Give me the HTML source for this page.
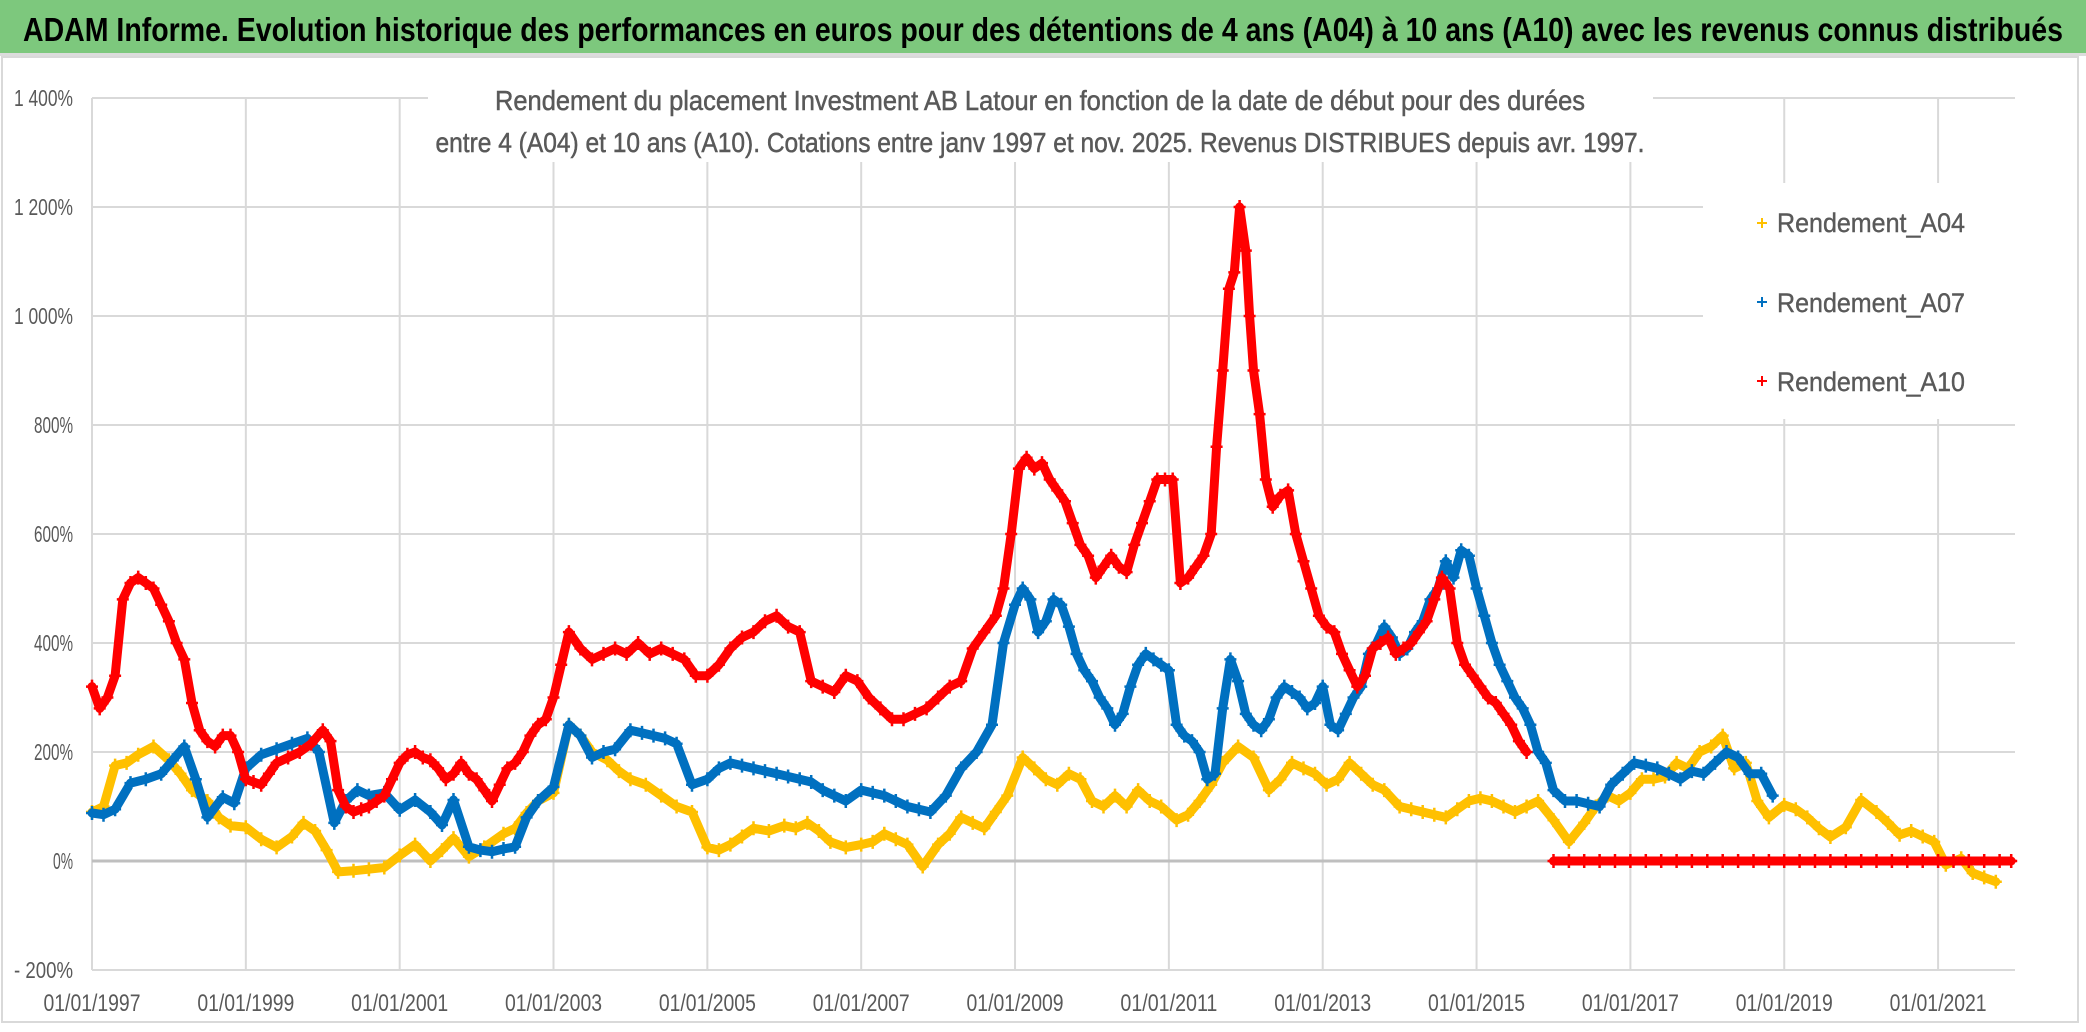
<!DOCTYPE html>
<html><head><meta charset="utf-8"><style>
html,body{margin:0;padding:0;background:#fff;}
svg{display:block;font-family:"Liberation Sans",sans-serif;}
</style></head><body>
<svg id="chart" width="2086" height="1032" viewBox="0 0 2086 1032" xmlns="http://www.w3.org/2000/svg">
<rect x="0" y="0" width="2086" height="1032" fill="#fff"/>
<rect x="0" y="0" width="2086" height="53" fill="#7dc87d"/>
<rect x="0" y="53" width="2086" height="3" fill="#dcdcdc"/>
<text x="1043" y="41" text-anchor="middle" font-size="33" font-weight="bold" fill="#000" textLength="2040" lengthAdjust="spacingAndGlyphs">ADAM Informe. Evolution historique des performances en euros pour des détentions de 4 ans (A04) à 10 ans (A10) avec les revenus connus distribués</text>
<rect x="2" y="57" width="2076" height="965" fill="none" stroke="#d9d9d9" stroke-width="2"/>
<g id="grid"></g>
<g id="axes"></g>
<g id="series"></g>
<rect x="428" y="62" width="1225" height="100" fill="#fff"/>
<text x="1040" y="110" text-anchor="middle" font-size="28" fill="#595959" stroke="#595959" stroke-width="0.5" textLength="1090" lengthAdjust="spacingAndGlyphs">Rendement du placement Investment AB Latour en fonction de la date de début pour des durées</text>
<text x="1040" y="152" text-anchor="middle" font-size="28" fill="#595959" stroke="#595959" stroke-width="0.5" textLength="1209" lengthAdjust="spacingAndGlyphs">entre 4 (A04) et 10 ans (A10). Cotations entre janv 1997 et nov. 2025. Revenus DISTRIBUES depuis avr. 1997.</text>
<g>
<rect x="1703" y="183" width="312" height="236" fill="#fff"/>
<g>
<path d="M1757 223h10M1762 218v10" stroke="#ffc000" stroke-width="2"/>
<text x="1777" y="232" font-size="27" fill="#595959" stroke="#595959" stroke-width="0.4" textLength="188" lengthAdjust="spacingAndGlyphs">Rendement_A04</text></g>
<g>
<path d="M1757 302h10M1762 297v10" stroke="#0070c0" stroke-width="2"/>
<text x="1777" y="312" font-size="27" fill="#595959" stroke="#595959" stroke-width="0.4" textLength="188" lengthAdjust="spacingAndGlyphs">Rendement_A07</text></g>
<g>
<path d="M1757 381h10M1762 376v10" stroke="#ff0000" stroke-width="2"/>
<text x="1777" y="391" font-size="27" fill="#595959" stroke="#595959" stroke-width="0.4" textLength="188" lengthAdjust="spacingAndGlyphs">Rendement_A10</text></g>
</g>
</svg>
<script>
const yTicks = [1400,1200,1000,800,600,400,200,0,-200];
const yTickLabels = ["1 400%","1 200%","1 000%","800%","600%","400%","200%","0%","- 200%"];
const xTicks = [1997,1999,2001,2003,2005,2007,2009,2011,2013,2015,2017,2019,2021];
const xTickLabels = ["01/01/1997","01/01/1999","01/01/2001","01/01/2003","01/01/2005","01/01/2007","01/01/2009","01/01/2011","01/01/2013","01/01/2015","01/01/2017","01/01/2019","01/01/2021"];

const a04Dates = [1997.0,1997.15,1997.3,1997.45,1997.6,1997.8,1998.0,1998.15,1998.3,1998.5,1998.65,1998.8,1999.0,1999.2,1999.4,1999.6,1999.75,1999.9,2000.05,2000.2,2000.4,2000.6,2000.8,2001.0,2001.2,2001.4,2001.55,2001.7,2001.9,2002.1,2002.35,2002.5,2002.65,2002.8,2003.0,2003.2,2003.35,2003.5,2003.7,2003.85,2004.0,2004.2,2004.4,2004.6,2004.8,2005.0,2005.15,2005.3,2005.45,2005.6,2005.8,2006.0,2006.15,2006.3,2006.45,2006.6,2006.8,2007.0,2007.15,2007.3,2007.45,2007.6,2007.8,2008.0,2008.15,2008.3,2008.45,2008.6,2008.75,2008.9,2009.1,2009.25,2009.4,2009.55,2009.7,2009.85,2010.0,2010.15,2010.3,2010.45,2010.6,2010.75,2010.9,2011.1,2011.25,2011.4,2011.55,2011.7,2011.9,2012.1,2012.3,2012.45,2012.6,2012.75,2012.9,2013.05,2013.2,2013.35,2013.5,2013.65,2013.8,2014.0,2014.15,2014.3,2014.45,2014.6,2014.75,2014.9,2015.05,2015.2,2015.35,2015.5,2015.65,2015.8,2016.0,2016.2,2016.4,2016.55,2016.7,2016.85,2017.0,2017.15,2017.3,2017.45,2017.6,2017.75,2017.9,2018.05,2018.2,2018.35,2018.5,2018.65,2018.8,2019.0,2019.15,2019.3,2019.45,2019.6,2019.8,2020.0,2020.2,2020.35,2020.5,2020.65,2020.8,2020.95,2021.1,2021.3,2021.45,2021.6,2021.75,2021.9];
const a04Values = [90,100,175,180,195,210,185,160,130,110,80,65,62,40,25,45,70,55,20,-20,-18,-15,-12,10,30,0,20,42,8,25,50,60,88,110,125,250,230,200,185,165,150,140,120,100,90,25,20,30,45,60,55,65,60,70,55,35,25,30,35,50,40,30,-10,30,50,80,70,60,90,120,190,170,150,140,160,150,110,100,120,100,130,110,100,75,85,110,140,180,210,190,130,150,180,170,160,140,150,180,160,140,130,100,95,90,85,80,95,110,115,110,100,90,100,110,75,35,70,100,120,110,125,150,150,155,180,170,200,210,230,170,180,110,80,103,95,80,60,44,62,112,90,70,48,55,45,35,-7,5,-22,-30,-38];

const a07Dates = [1997.0,1997.15,1997.3,1997.5,1997.7,1997.9,1998.05,1998.2,1998.35,1998.5,1998.7,1998.85,1999.0,1999.2,1999.4,1999.6,1999.8,1999.95,2000.15,2000.3,2000.45,2000.6,2000.8,2001.0,2001.2,2001.4,2001.55,2001.7,2001.9,2002.05,2002.2,2002.35,2002.5,2002.65,2002.8,2003.0,2003.2,2003.35,2003.5,2003.65,2003.8,2004.0,2004.15,2004.3,2004.45,2004.6,2004.8,2005.0,2005.15,2005.3,2005.45,2005.6,2005.75,2005.9,2006.05,2006.2,2006.35,2006.5,2006.65,2006.8,2007.0,2007.15,2007.3,2007.45,2007.6,2007.75,2007.9,2008.1,2008.3,2008.5,2008.7,2008.85,2009.0,2009.1,2009.2,2009.3,2009.4,2009.5,2009.6,2009.7,2009.8,2009.9,2010.0,2010.1,2010.2,2010.3,2010.4,2010.5,2010.6,2010.7,2010.8,2010.9,2011.0,2011.1,2011.2,2011.3,2011.4,2011.5,2011.6,2011.7,2011.8,2011.9,2012.0,2012.1,2012.2,2012.3,2012.4,2012.5,2012.6,2012.7,2012.8,2012.9,2013.0,2013.1,2013.2,2013.3,2013.4,2013.5,2013.6,2013.7,2013.8,2013.9,2014.0,2014.1,2014.2,2014.3,2014.4,2014.5,2014.6,2014.7,2014.8,2014.9,2015.0,2015.1,2015.2,2015.3,2015.4,2015.5,2015.6,2015.7,2015.8,2015.9,2016.0,2016.15,2016.3,2016.45,2016.6,2016.75,2016.9,2017.05,2017.2,2017.35,2017.5,2017.65,2017.8,2017.95,2018.1,2018.25,2018.4,2018.55,2018.7,2018.85];
const a07Values = [88,85,95,143,150,160,185,210,150,80,117,106,170,195,205,215,225,200,70,110,130,120,125,94,112,90,66,112,26,20,17,22,26,80,110,136,250,230,190,200,205,240,235,230,225,215,140,150,170,180,175,170,165,160,155,150,145,130,120,110,130,125,120,110,100,95,90,120,170,200,250,400,470,500,480,420,440,480,470,430,380,350,330,300,280,250,270,320,360,380,370,360,350,250,230,220,200,150,160,280,370,330,270,250,240,260,300,320,310,300,280,290,320,250,240,270,300,320,380,400,430,410,380,390,420,440,480,500,550,520,570,560,500,450,400,360,330,300,280,250,200,180,130,110,110,105,100,140,160,180,175,170,160,150,165,160,180,200,190,160,160,120];

const a10Dates = [1997.0,1997.1,1997.2,1997.3,1997.4,1997.5,1997.6,1997.7,1997.8,1997.9,1998.0,1998.1,1998.2,1998.3,1998.4,1998.5,1998.6,1998.7,1998.8,1998.9,1999.0,1999.1,1999.2,1999.3,1999.4,1999.55,1999.7,1999.85,2000.0,2000.1,2000.2,2000.3,2000.4,2000.5,2000.6,2000.7,2000.8,2000.9,2001.0,2001.1,2001.2,2001.3,2001.4,2001.5,2001.6,2001.7,2001.8,2001.9,2002.0,2002.1,2002.2,2002.3,2002.4,2002.5,2002.6,2002.7,2002.8,2002.9,2003.0,2003.1,2003.2,2003.35,2003.5,2003.65,2003.8,2003.95,2004.1,2004.25,2004.4,2004.55,2004.7,2004.85,2005.0,2005.15,2005.3,2005.45,2005.6,2005.75,2005.9,2006.05,2006.2,2006.35,2006.5,2006.65,2006.8,2006.95,2007.1,2007.25,2007.4,2007.55,2007.7,2007.85,2008.0,2008.15,2008.3,2008.45,2008.6,2008.75,2008.85,2008.95,2009.05,2009.15,2009.25,2009.35,2009.45,2009.55,2009.65,2009.75,2009.85,2009.95,2010.05,2010.15,2010.25,2010.35,2010.45,2010.55,2010.65,2010.75,2010.85,2010.95,2011.05,2011.15,2011.25,2011.35,2011.45,2011.55,2011.62,2011.7,2011.78,2011.85,2011.92,2012.0,2012.05,2012.1,2012.18,2012.26,2012.35,2012.45,2012.55,2012.65,2012.75,2012.85,2012.95,2013.05,2013.15,2013.25,2013.35,2013.45,2013.55,2013.65,2013.75,2013.85,2013.95,2014.05,2014.15,2014.25,2014.35,2014.45,2014.55,2014.65,2014.75,2014.85,2014.95,2015.05,2015.15,2015.25,2015.35,2015.45,2015.55,2015.65,2015.75,2015.85];
const a10Values = [320,280,300,340,480,510,520,510,500,470,440,400,370,290,240,220,210,230,230,200,150,145,140,160,180,190,200,215,240,220,130,100,90,95,100,110,120,150,180,195,200,190,185,170,150,160,180,160,150,130,110,140,170,180,200,230,250,260,300,360,420,390,370,380,390,380,400,380,390,380,370,340,340,360,390,410,420,440,450,430,420,330,320,310,340,330,300,280,260,260,270,280,300,320,330,390,420,450,500,600,720,740,720,730,700,680,660,620,580,560,520,540,560,540,530,580,620,660,700,700,700,510,520,540,560,600,760,900,1050,1080,1200,1120,1000,900,820,700,650,670,680,600,550,500,450,430,420,380,350,320,340,390,400,410,380,390,400,420,440,480,520,500,400,360,340,320,300,290,270,250,220,200];

const zeroDates = [2016.0,2016.2,2016.4,2016.6,2016.8,2017.0,2017.2,2017.4,2017.6,2017.8,2018.0,2018.2,2018.4,2018.6,2018.8,2019.0,2019.2,2019.4,2019.6,2019.8,2020.0,2020.2,2020.4,2020.6,2020.8,2021.0,2021.2,2021.4,2021.6,2021.8,2021.95];
const zeroValues = [0,0,0,0,0,0,0,0,0,0,0,0,0,0,0,0,0,0,0,0,0,0,0,0,0,0,0,0,0,0,0];

const X0 = 92, X1 = 2015, XMIN = 1997, XMAX = 2022;
const Y0 = 861, YPER = 109/200;
function xScale(t){ return X0 + (t - XMIN) * (X1 - X0) / (XMAX - XMIN); }
function yScale(v){ return Y0 - v * YPER; }
const NS = "http://www.w3.org/2000/svg";
function mk(tag, attrs, parent){ const e = document.createElementNS(NS, tag); for (const k in attrs) e.setAttribute(k, attrs[k]); parent.appendChild(e); return e; }

const grid = document.getElementById('grid');
const axes = document.getElementById('axes');
yTicks.forEach((v, i) => {
  if (v !== 0) {
    const l = mk('line', {x1:X0, x2:X1, y1:yScale(v), y2:yScale(v), stroke:'#d9d9d9', 'stroke-width':2}, grid);
    
    
  }
  const lab = yTickLabels[i];
  const t = mk('text', {x:73, y:yScale(v)+8, 'text-anchor':'end', 'font-size':23, fill:'#595959', textLength:(lab.length*9.8).toFixed(0), lengthAdjust:'spacingAndGlyphs'}, axes);
  t.textContent = lab;
  
  
});
xTicks.forEach((v, i) => {
  const l = mk('line', {x1:xScale(v), x2:xScale(v), y1:yScale(1400), y2:yScale(-200), stroke:'#d9d9d9', 'stroke-width':2}, grid);
  
  
  const t = mk('text', {x:xScale(v), y:1011, 'text-anchor':'middle', 'font-size':24, fill:'#595959', textLength:97, lengthAdjust:'spacingAndGlyphs'}, axes);
  t.textContent = xTickLabels[i];
  
  
});
const zl = mk('line', {x1:X0, x2:X1, y1:yScale(0), y2:yScale(0), stroke:'#bfbfbf', 'stroke-width':3}, axes);



const seriesLayer = document.getElementById('series');
function drawSeries(dates, vals, color, name){
  const g = mk('g', {}, seriesLayer);
  
  
  const pts = dates.map((d, i) => xScale(d).toFixed(1) + ',' + yScale(vals[i]).toFixed(1)).join(' ');
  const pl = mk('polyline', {points:pts, fill:'none', stroke:color, 'stroke-width':9, 'stroke-linejoin':'round', 'stroke-linecap':'round'}, g);
  
  
  let d = '';
  dates.forEach((t, i) => {
    const x = xScale(t), y = yScale(vals[i]);
    d += 'M' + (x-6).toFixed(1) + ' ' + y.toFixed(1) + 'h12M' + x.toFixed(1) + ' ' + (y-7).toFixed(1) + 'v14';
  });
  const m = mk('path', {d:d, stroke:color, 'stroke-width':2.5, fill:'none'}, g);
  
  
}
drawSeries(a04Dates, a04Values, '#ffc000', 'series-a04');
drawSeries(a07Dates, a07Values, '#0070c0', 'series-a07');
drawSeries(a10Dates, a10Values, '#ff0000', 'series-a10');
drawSeries(zeroDates, zeroValues, '#ff0000', 'series-a10-zero');
</script>
</body></html>
